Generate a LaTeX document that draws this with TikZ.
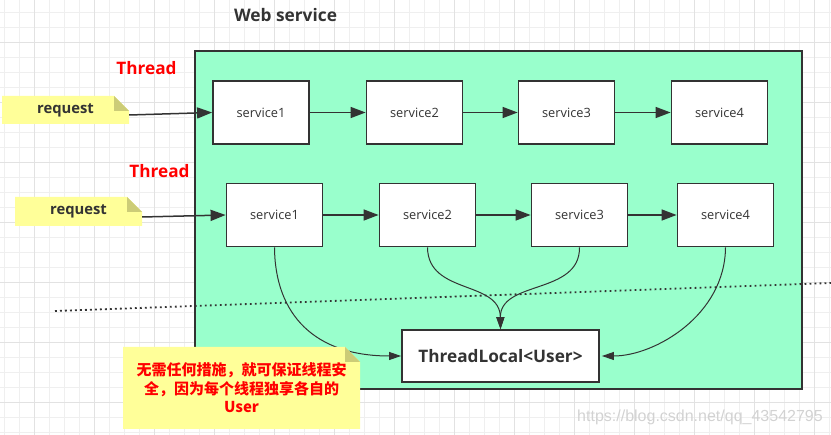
\documentclass[tikz,border=0pt]{standalone}
\usepackage{fontspec}
\setmainfont{Open Sans}
\newfontfamily\cjk{Noto Sans CJK SC}
\newfontfamily\wmfont{Liberation Sans}
\usetikzlibrary{arrows.meta}
\definecolor{webgreen}{HTML}{99FFCC}
\definecolor{noteyellow}{HTML}{FFFF99}
\definecolor{notefold}{HTML}{CCCC77}
\definecolor{darkline}{HTML}{333333}
\definecolor{gridminor}{HTML}{EFEFEF}
\definecolor{gridmajor}{HTML}{E2E2E2}
\definecolor{wmark}{HTML}{D2D2D2}
\tikzset{
  servicebox/.style={draw=darkline, line width=1.8pt, fill=white, minimum width=96pt, minimum height=63pt, inner sep=0pt, text=darkline, font=\fontsize{12.8}{15}\selectfont},
  threadlabel/.style={text=red, font=\fontsize{17.2}{20}\selectfont\bfseries},
  notebox/.style={inner sep=0pt, path picture={
    \fill[noteyellow] (path picture bounding box.north west) -- ([xshift=-15pt]path picture bounding box.north east) -- ([yshift=-15pt]path picture bounding box.north east) -- (path picture bounding box.south east) -- (path picture bounding box.south west) -- cycle;
    \fill[notefold] ([xshift=-15pt]path picture bounding box.north east) -- ([xshift=-15pt,yshift=-15pt]path picture bounding box.north east) -- ([yshift=-15pt]path picture bounding box.north east) -- cycle;}},
  flow/.style={draw=darkline, line width=1.5pt, -{Triangle[length=15pt,width=11pt]}},
  share/.style={draw=darkline, line width=1pt, -{Triangle[length=12pt,width=8pt]}},
}
\begin{document}
\begin{tikzpicture}[x=1pt, y=-1pt]
\useasboundingbox (0,0) rectangle (831,435);
\foreach \gx in {4.3,19.3,...,831} \draw[gridminor, line width=1pt] (\gx,0) -- (\gx,435);
\foreach \gy in {12.7,27.7,...,435} \draw[gridminor, line width=1pt] (0,\gy) -- (831,\gy);
\foreach \gx in {34.3,94.3,...,831} \draw[gridmajor, line width=1pt] (\gx,0) -- (\gx,435);
\foreach \gy in {42.7,102.7,...,435} \draw[gridmajor, line width=1pt] (0,\gy) -- (831,\gy);
\node (title) at (285.5,15) {\fontsize{17.3}{20}\selectfont\bfseries\color{darkline}Web service};
\node[draw=darkline, line width=1.2pt, fill=webgreen, minimum width=607pt, minimum height=338pt] (web) at (498.5,220) {};
\node[threadlabel] (thread1) at (146.5,68) {Thread};
\node[threadlabel] (thread2) at (159.5,171) {Thread};
\node[notebox, minimum width=127pt, minimum height=28pt, font=\fontsize{14.8}{16}\selectfont\bfseries, text=darkline] (req1) at (65.5,110) {request};
\node[notebox, minimum width=127pt, minimum height=29pt, font=\fontsize{14.8}{16}\selectfont\bfseries, text=darkline] (req2) at (78.5,211.5) {request};
\node[servicebox] (s11) at (261,112.5) {service1};
\node[servicebox] (s12) at (414.5,112.5) {service2};
\node[servicebox] (s13) at (566.5,112.5) {service3};
\node[servicebox] (s14) at (719.5,112.5) {service4};
\node[servicebox] (s21) at (274.5,215) {service1};
\node[servicebox] (s22) at (427.5,215) {service2};
\node[servicebox] (s23) at (579.5,215) {service3};
\node[servicebox] (s24) at (725.5,215) {service4};
\node[servicebox, minimum width=197pt, minimum height=52pt, font=\fontsize{17.2}{19}\selectfont\bfseries] (local) at (500.5,356) {ThreadLocal<User>};
\coordinate (dot1) at (55,311);
\coordinate (dot2) at (831,283);
\draw[flow] ([yshift=-5pt]req1.east) -- (s11.west);
\draw[flow] (s11) -- (s12);
\draw[flow] (s12) -- (s13);
\draw[flow] (s13) -- (s14);
\draw[flow] ([yshift=-5.5pt]req2.east) -- (s21.west);
\draw[flow] (s21) -- (s22);
\draw[flow] (s22) -- (s23);
\draw[flow] (s23) -- (s24);
\draw[share] (s21.south) .. controls (275,315) and (315,356) .. (local.west);
\draw[share] (s22.south) .. controls (428,295) and (500,280) .. (local.north);
\draw[share] (s23.south) .. controls (580,295) and (500,280) .. (local.north);
\draw[share] (s24.south) .. controls (725,315) and (655,356) .. ([xshift=2pt]local.east);
\draw[darkline, line width=1.8pt, dash pattern=on 1.8pt off 3.2pt] (dot1) -- (dot2);
\node[notebox, minimum width=237pt, minimum height=82pt, align=center, text=red, font=\cjk\bfseries\fontsize{15}{18.5}\selectfont] (tip) at (241.5,388) {无需任何措施，就可保证线程安\\全，因为每个线程独享各自的\\User};
\node[text=wmark, font=\wmfont\fontsize{16}{19}\selectfont] (mark) at (700,417) {https://blog.csdn.net/qq\_43542795};
\end{tikzpicture}
\end{document}
